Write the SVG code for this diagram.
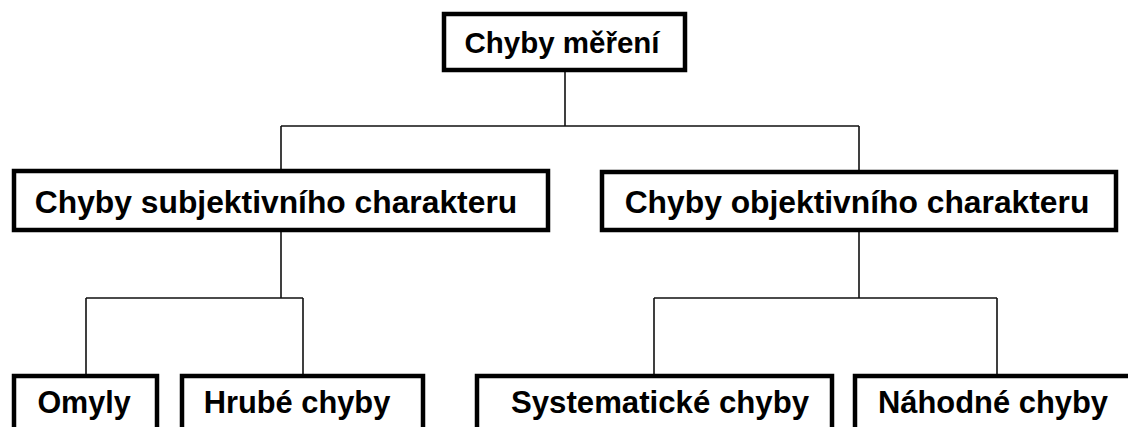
<svg xmlns="http://www.w3.org/2000/svg" width="1128" height="427" viewBox="0 0 1128 427">
  <style>
    .box { fill: #ffffff; stroke: #000000; stroke-width: 4.5; }
    .conn { fill: none; stroke: #111111; stroke-width: 1.6; }
    .lbl { font-family: "Liberation Sans", Arial, sans-serif; font-weight: bold; fill: #000000; text-anchor: middle; }
  </style>
  <rect width="1128" height="427" fill="#ffffff"/>
  <g id="connectors">
    <path class="conn" d="M565 71 V126 M281 126 H859 M281 126 V170 M859 126 V171"/>
    <path class="conn" d="M281 231 V298 M86 298 H303 M86 298 V375 M303 298 V375"/>
    <path class="conn" d="M859 231 V298 M654 298 H997 M654 298 V375 M997 298 V375"/>
  </g>
  <g id="node-chyby-mereni">
    <rect class="box" x="444" y="14" width="241" height="56"/>
    <text class="lbl" x="562" y="53" font-size="29.5">Chyby měření</text>
  </g>
  <g id="node-subjektivni">
    <rect class="box" x="14" y="171" width="534" height="59"/>
    <text class="lbl" x="276" y="213" font-size="31.8">Chyby subjektivního charakteru</text>
  </g>
  <g id="node-objektivni">
    <rect class="box" x="602" y="172" width="514" height="58"/>
    <text class="lbl" x="857" y="213" font-size="31.8">Chyby objektivního charakteru</text>
  </g>
  <g id="node-omyly">
    <rect class="box" x="14" y="376" width="143" height="70"/>
    <text class="lbl" x="84" y="413" font-size="30.5">Omyly</text>
  </g>
  <g id="node-hrube">
    <rect class="box" x="182" y="376" width="241" height="70"/>
    <text class="lbl" x="297" y="413" font-size="30.8">Hrubé chyby</text>
  </g>
  <g id="node-systematicke">
    <rect class="box" x="477" y="376" width="355" height="70"/>
    <text class="lbl" x="660" y="413" font-size="31.2">Systematické chyby</text>
  </g>
  <g id="node-nahodne">
    <rect class="box" x="855" y="376" width="284" height="70"/>
    <text class="lbl" x="993" y="413" font-size="30.9">Náhodné chyby</text>
  </g>
</svg>
